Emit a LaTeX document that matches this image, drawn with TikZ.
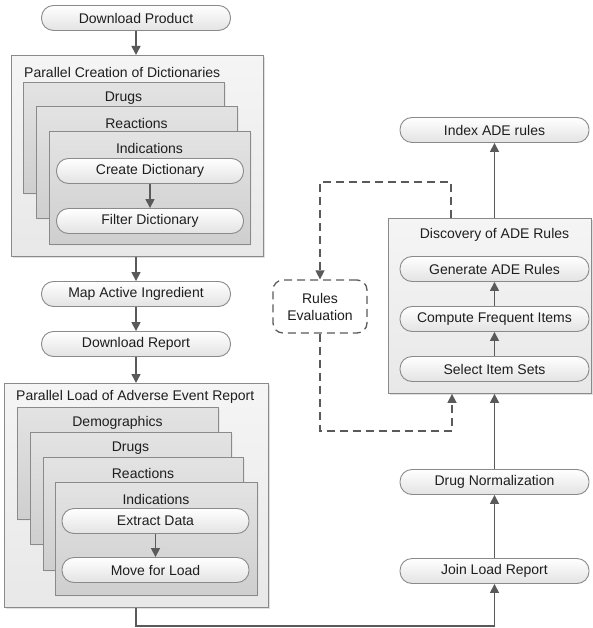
\documentclass[tikz,border=0pt]{standalone}
\usepackage{fontspec}
\setmainfont{Liberation Sans}
\usetikzlibrary{arrows.meta,shadows}
\definecolor{edge}{HTML}{8A8A8A}
\definecolor{arrowc}{HTML}{5A5A5A}
\definecolor{txt}{HTML}{1E1E1E}
\tikzset{
  pill/.style={draw=edge, line width=0.9pt, rectangle, rounded corners=12pt,
    top color=white, bottom color=black!11, minimum width=189pt, minimum height=25pt,
    inner sep=0pt, text=txt, font=\fontsize{14}{16}\selectfont},
  outerbox/.style={draw=edge, line width=0.9pt, rectangle, top color=black!4, bottom color=black!9,
    anchor=north west, inner sep=0pt,
    drop shadow={shadow xshift=2pt, shadow yshift=-2pt, fill=black!12, opacity=1}},
  innerbox/.style={draw=edge, line width=0.9pt, rectangle, top color=black!11, bottom color=black!19,
    anchor=north west, inner sep=0pt,
    drop shadow={shadow xshift=2pt, shadow yshift=-2pt, fill=black!10, opacity=1}},
  title/.style={text=txt, font=\fontsize{14}{16}\selectfont, inner sep=0pt},
  arr/.style={draw=arrowc, line width=1.6pt, -{Triangle[width=9pt,length=9pt]}},
  plainline/.style={draw=arrowc, line width=1.6pt},
  dasharr/.style={draw=arrowc, line width=1.5pt, dash pattern=on 8pt off 5pt,
    -{Triangle[width=9pt,length=9pt]}},
  evalbox/.style={draw=arrowc, line width=1.3pt, dash pattern=on 8pt off 5pt, rectangle,
    rounded corners=10pt, fill=white, minimum width=94pt, minimum height=53pt,
    align=center, text=txt, font=\fontsize{14}{17}\selectfont, inner sep=0pt}
}
\begin{document}
\begin{tikzpicture}[x=1pt,y=-1pt]
\useasboundingbox (0,0) rectangle (593,628);

% ---- top left group
\node[pill] (dp) at (136,18) {Download Product};
\node[outerbox, minimum width=252pt, minimum height=201pt] (pcd) at (11,55) {};
\node[title, anchor=west] (pcdt) at (24,72) {Parallel Creation of Dictionaries};
\node[innerbox, minimum width=201pt, minimum height=111pt] (cdrugs) at (23,82) {};
\node[title] (cdrugst) at (123.5,98) {Drugs};
\node[innerbox, minimum width=201pt, minimum height=112pt] (creac) at (36,106) {};
\node[title] (creact) at (136.5,123) {Reactions};
\node[innerbox, minimum width=201pt, minimum height=113pt] (cind) at (49,131) {};
\node[title] (cindt) at (149.5,148) {Indications};
\node[pill, minimum width=187pt] (cdict) at (150,171) {Create Dictionary};
\node[pill, minimum width=187pt] (fdict) at (150,221) {Filter Dictionary};

\draw[arr] (dp) -- (dp |- pcd.north);
\draw[arr] (cdict) -- (fdict);

% ---- middle
\node[pill] (map) at (136,294) {Map Active Ingredient};
\node[pill] (dr) at (136,344) {Download Report};
\draw[arr] (pcd.south -| dp) -- (map);
\draw[arr] (map) -- (dr);

% ---- bottom left group
\node[outerbox, minimum width=264pt, minimum height=224pt] (pla) at (4,383) {};
\node[title, anchor=west] (plat) at (16,397) {Parallel Load of Adverse Event Report};
\node[innerbox, minimum width=201pt, minimum height=112pt] (ldemo) at (17,407) {};
\node[title] (ldemot) at (117.5,423) {Demographics};
\node[innerbox, minimum width=201pt, minimum height=112pt] (ldrugs) at (30,432) {};
\node[title] (ldrugst) at (130.5,448) {Drugs};
\node[innerbox, minimum width=200pt, minimum height=113pt] (lreac) at (43,457) {};
\node[title] (lreact) at (143,473) {Reactions};
\node[innerbox, minimum width=202pt, minimum height=113pt] (lind) at (55,482) {};
\node[title] (lindt) at (156,499) {Indications};
\node[pill, minimum width=187pt] (ext) at (155.5,521) {Extract Data};
\node[pill, minimum width=187pt] (mfl) at (155.5,570) {Move for Load};
\draw[arr] (dr) -- (dr |- pla.north);
\draw[arr] (ext) -- (mfl);

% ---- right column
\node[pill] (idx) at (494.5,130) {Index ADE rules};
\node[outerbox, minimum width=203pt, minimum height=175pt] (disc) at (388,218) {};
\node[title] (disct) at (494.5,235) {Discovery of ADE Rules};
\node[pill] (gen) at (494.5,269) {Generate ADE Rules};
\node[pill] (cfi) at (494.5,319) {Compute Frequent Items};
\node[pill] (sis) at (494.5,369) {Select Item Sets};
\node[pill] (dn) at (494.5,482) {Drug Normalization};
\node[pill] (jlr) at (494.5,571) {Join Load Report};

\draw[arr] (disc.north -| idx) -- (idx);
\draw[arr] (sis) -- (cfi);
\draw[arr] (cfi) -- (gen);
\draw[arr] (dn) -- (disc.south -| dn);
\draw[arr] (jlr) -- (dn);

\coordinate (b1) at (136,626);
\draw[arr] (pla.south -| b1) -- (b1) -| (jlr.south);

% ---- rules evaluation loop
\node[evalbox] (rules) at (320,306.5) {Rules\\Evaluation};
\coordinate (d1) at (451,182);
\coordinate (d2) at (452,431);
\draw[dasharr] (disc.north -| d1) -- (d1) -| (rules.north);
\draw[dasharr] (rules.south) |- (d2) -- (disc.south -| d2);
\end{tikzpicture}
\end{document}
